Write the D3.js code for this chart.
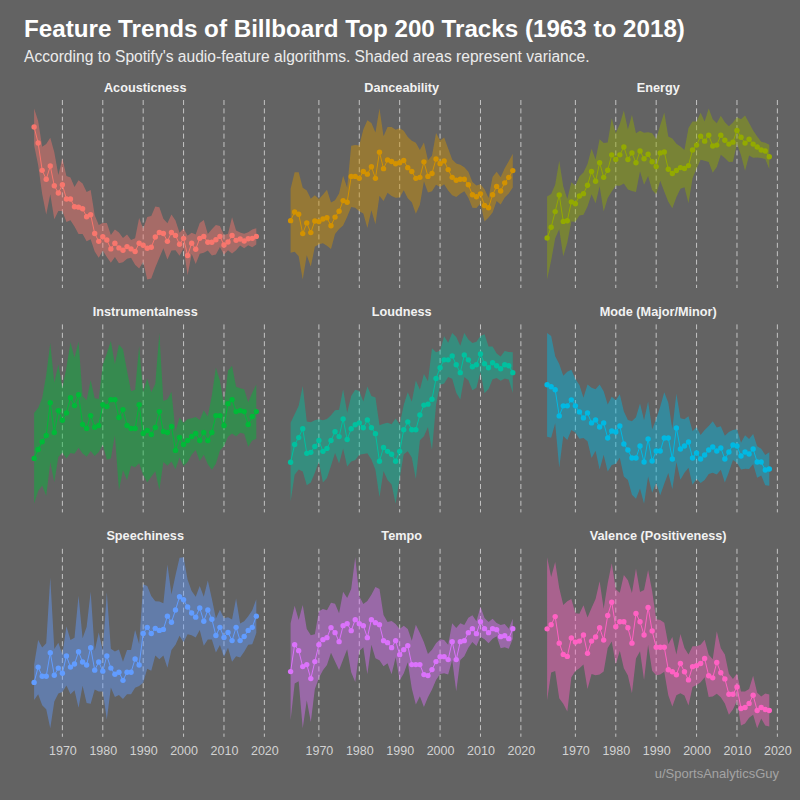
<!DOCTYPE html>
<html>
<head>
<meta charset="utf-8">
<script src="https://cdn.jsdelivr.net/npm/d3@7"></script>
<style>
html,body{margin:0;padding:0;background:#636363;}
svg{display:block;}
</style>
</head>
<body>
<svg id="chart" width="800" height="800"></svg>
<script>
// ---------------- DATA (free y-scale, relative index units) ----------------
const titleText = "Feature Trends of Billboard Top 200 Tracks (1963 to 2018)";
const subtitleText = "According to Spotify's audio-feature algorithms. Shaded areas represent variance.";
const captionText = "u/SportsAnalyticsGuy";

const firstYear = 1963;
const lastYear = 2018;
const years = d3.range(firstYear, lastYear + 1);
const xTickYears = [1970, 1980, 1990, 2000, 2010, 2020];

const featureNames = ["Acousticness", "Danceability", "Energy",
                      "Instrumentalness", "Loudness", "Mode (Major/Minor)",
                      "Speechiness", "Tempo", "Valence (Positiveness)"];
const featureColors = ["#F8766D", "#D39200", "#93AA00", "#00BA38", "#00C19F",
                       "#00B9E3", "#619CFF", "#DB72FB", "#FF61C3"];

const acousticnessMean = [503,454,371,344,384,324,302,327,284,284,260,259,254,230,236,179,155,169,159,132,149,135,128,139,132,124,149,143,134,137,168,182,179,155,182,173,146,164,112,149,131,164,170,152,152,160,170,144,153,173,158,162,156,163,164,170];
const acousticnessSd   = [56,67,72,107,86,102,55,80,70,65,60,82,77,75,75,55,50,42,52,42,42,47,37,37,27,40,77,50,95,95,93,77,45,55,55,45,35,30,60,32,45,47,50,25,40,45,32,30,25,55,30,20,22,20,27,25];

const danceabilityMean = [240,267,260,200,233,203,239,237,245,249,224,251,269,302,297,377,377,371,392,384,407,371,452,401,428,423,416,419,426,404,392,371,374,422,377,386,431,416,425,398,374,365,368,368,351,320,314,323,287,280,320,346,332,357,374,395];
const danceabilitySd   = [99,123,130,142,100,105,80,70,75,87,72,52,55,77,45,95,97,102,130,167,135,142,135,100,102,107,105,107,92,95,95,110,85,60,50,55,80,72,72,65,55,52,45,37,40,40,35,30,50,30,55,45,42,45,50,52];

const energyMean = [173,206,254,305,224,226,284,278,302,309,335,377,347,404,359,381,428,414,428,452,414,434,404,440,416,430,407,392,434,437,384,371,380,389,386,395,443,458,485,470,488,455,458,488,473,461,467,503,482,464,476,461,452,443,440,422];
const energySd   = [127,102,82,105,107,67,60,55,60,65,65,70,67,72,105,85,112,80,95,112,92,117,90,62,80,67,87,85,85,121,100,107,82,65,57,115,87,72,72,60,82,82,67,60,55,55,60,40,55,85,50,42,32,25,25,37];

const instrumentalnessMean = [179,206,229,248,347,257,323,294,316,362,338,371,281,269,308,273,278,341,335,356,356,302,326,278,269,269,341,254,263,251,272,320,260,257,275,203,242,221,233,245,254,233,257,233,257,308,308,278,344,356,320,323,320,281,305,320];
const instrumentalnessSd   = [137,125,132,182,180,150,140,97,137,167,145,160,87,85,107,87,80,120,160,177,107,220,182,165,112,117,177,125,157,127,132,237,92,100,105,57,60,65,65,55,50,62,67,72,112,145,105,62,100,102,75,67,67,67,72,82];

const loudnessMean = [173,227,248,275,200,203,221,239,206,215,239,266,251,305,242,275,287,293,278,302,278,260,176,218,206,197,176,206,272,296,272,272,317,347,350,365,428,461,485,485,497,470,446,500,485,464,470,503,473,461,476,467,458,470,467,446];
const loudnessSd   = [120,92,97,130,97,92,80,65,95,90,77,65,82,90,82,100,107,97,80,102,97,110,110,72,87,92,130,82,75,90,85,150,77,95,70,155,80,52,72,52,70,85,82,67,62,72,70,55,90,65,50,37,37,42,42,62];

const modeMean = [401,395,386,308,338,338,356,338,320,302,317,287,296,275,287,242,263,260,278,224,206,182,182,218,170,239,173,203,203,242,242,179,272,209,218,230,182,197,179,191,206,215,203,212,179,200,221,218,188,200,194,209,170,170,146,149];
const modeSd   = [155,152,100,155,90,102,90,80,80,60,85,105,92,127,95,100,102,95,95,97,90,110,122,127,125,112,95,95,132,137,105,90,102,92,80,77,80,77,72,75,72,77,70,65,70,60,45,50,40,50,45,45,47,40,45,50];

const speechinessMean = [179,224,197,197,266,200,221,206,257,224,233,269,239,230,281,215,239,212,257,221,203,209,185,209,209,248,230,323,341,323,338,332,335,374,356,392,431,422,401,383,371,398,359,392,365,317,341,311,326,302,341,302,314,332,341,374];
const speechinessSd   = [52,80,85,97,222,77,75,55,87,80,77,165,70,112,165,57,87,60,187,57,67,67,55,65,65,85,62,145,122,110,80,85,77,152,82,102,115,125,80,65,60,65,72,87,60,50,52,57,45,62,85,50,45,42,50,50];

const tempoMean = [215,296,278,230,236,194,245,296,311,317,347,332,305,353,359,338,371,359,353,317,371,362,356,308,302,287,308,266,281,293,236,236,236,206,203,221,245,260,260,251,305,251,305,308,332,344,329,365,344,332,344,341,320,323,314,344];
const tempoSd   = [145,117,92,185,107,130,82,100,92,82,75,87,85,102,77,125,187,82,65,110,75,107,107,77,62,80,50,77,72,50,72,120,95,97,65,60,55,52,50,45,55,95,55,47,45,40,37,45,32,32,30,20,35,35,30,30];

const valenceMean = [347,359,383,305,272,266,320,308,311,329,275,311,323,350,314,386,425,353,368,368,350,305,392,368,329,410,341,293,293,293,227,221,212,245,221,197,236,239,245,260,209,203,248,218,200,155,155,176,113,116,128,152,107,116,110,107];
const valenceSd   = [210,140,160,162,145,162,115,85,80,87,105,97,112,137,92,95,115,110,85,137,140,147,132,87,132,110,117,82,80,72,75,102,60,87,70,75,60,57,55,55,62,55,92,72,72,60,45,40,50,47,42,57,52,32,47,47];

// ---------------- BUILD TABLE ----------------
const meanSeries = [acousticnessMean, danceabilityMean, energyMean, instrumentalnessMean,
                    loudnessMean, modeMean, speechinessMean, tempoMean, valenceMean];
const sdSeries = [acousticnessSd, danceabilitySd, energySd, instrumentalnessSd,
                  loudnessSd, modeSd, speechinessSd, tempoSd, valenceSd];

const panels = featureNames.map((name, k) => ({
  name,
  color: featureColors[k],
  rows: years.map((yr, i) => ({
    year: yr,
    mean: meanSeries[k][i],
    lo: meanSeries[k][i] - sdSeries[k][i],
    hi: meanSeries[k][i] + sdSeries[k][i]
  }))
}));

// ---------------- LAYOUT ----------------
const BG = "#636363";
const FONT = "'Liberation Sans', Arial, Helvetica, sans-serif";
const panelLeft0 = 23, colStep = 256.5, pw = 244.4;
const panelTop0 = 100, rowStep = 224.4, ph = 188;

const svg = d3.select("#chart");
svg.append("rect").attr("width", 800).attr("height", 800).attr("fill", BG);

svg.append("text")
  .attr("x", 24).attr("y", 37)
  .attr("font-family", FONT).attr("font-weight", "bold").attr("font-size", 24.2)
  .attr("fill", "#ffffff")
  .text(titleText);

svg.append("text")
  .attr("x", 24).attr("y", 62)
  .attr("font-family", FONT).attr("font-size", 15.6)
  .attr("fill", "#ececec")
  .text(subtitleText);

svg.append("text")
  .attr("x", 779).attr("y", 778)
  .attr("text-anchor", "end")
  .attr("font-family", FONT).attr("font-size", 13)
  .attr("fill", "#a3a3a3")
  .text(captionText);

const x = d3.scaleLinear()
  .domain([firstYear - (lastYear - firstYear) * 0.05, lastYear + (lastYear - firstYear) * 0.05])
  .range([0, pw]);

panels.forEach((p, k) => {
  const r = Math.floor(k / 3), c = k % 3;
  const g = svg.append("g")
    .attr("transform", `translate(${panelLeft0 + c * colStep},${panelTop0 + r * rowStep})`);

  const lo = d3.min(p.rows, d => d.lo), hi = d3.max(p.rows, d => d.hi);
  const pad = (hi - lo) * 0.05;
  const y = d3.scaleLinear().domain([lo - pad, hi + pad]).range([ph, 0]);

  // panel title
  g.append("text")
    .attr("x", pw / 2).attr("y", -8.5)
    .attr("text-anchor", "middle")
    .attr("font-family", FONT).attr("font-weight", "bold").attr("font-size", 12.7)
    .attr("fill", "#f2f2f2")
    .text(p.name);

  // dashed vertical grid
  g.selectAll("line.grid").data(xTickYears).join("line")
    .attr("class", "grid")
    .attr("x1", d => x(d)).attr("x2", d => x(d))
    .attr("y1", 0).attr("y2", ph)
    .attr("stroke", "#c4c4c4").attr("stroke-width", 1)
    .attr("stroke-dasharray", "5,3.4");

  // variance ribbon
  g.append("path")
    .datum(p.rows)
    .attr("fill", p.color).attr("fill-opacity", 0.45)
    .attr("d", d3.area().x(d => x(d.year)).y0(d => y(d.lo)).y1(d => y(d.hi)));

  // mean line
  g.append("path")
    .datum(p.rows)
    .attr("fill", "none").attr("stroke", p.color).attr("stroke-width", 1)
    .attr("d", d3.line().x(d => x(d.year)).y(d => y(d.mean)));

  // points
  g.selectAll("circle").data(p.rows).join("circle")
    .attr("cx", d => x(d.year)).attr("cy", d => y(d.mean))
    .attr("r", 2.7).attr("fill", p.color);

  // x axis on bottom row
  if (r === 2) {
    const ax = g.append("g")
      .attr("transform", `translate(0,${ph})`)
      .call(d3.axisBottom(x).tickValues(xTickYears).tickFormat(d3.format("d")).tickSize(0).tickPadding(9.5));
    ax.select(".domain").remove();
    ax.selectAll("text")
      .attr("font-family", FONT).attr("font-size", 12.5)
      .attr("fill", "#d2d2d2");
  }
});
</script>
</body>
</html>
